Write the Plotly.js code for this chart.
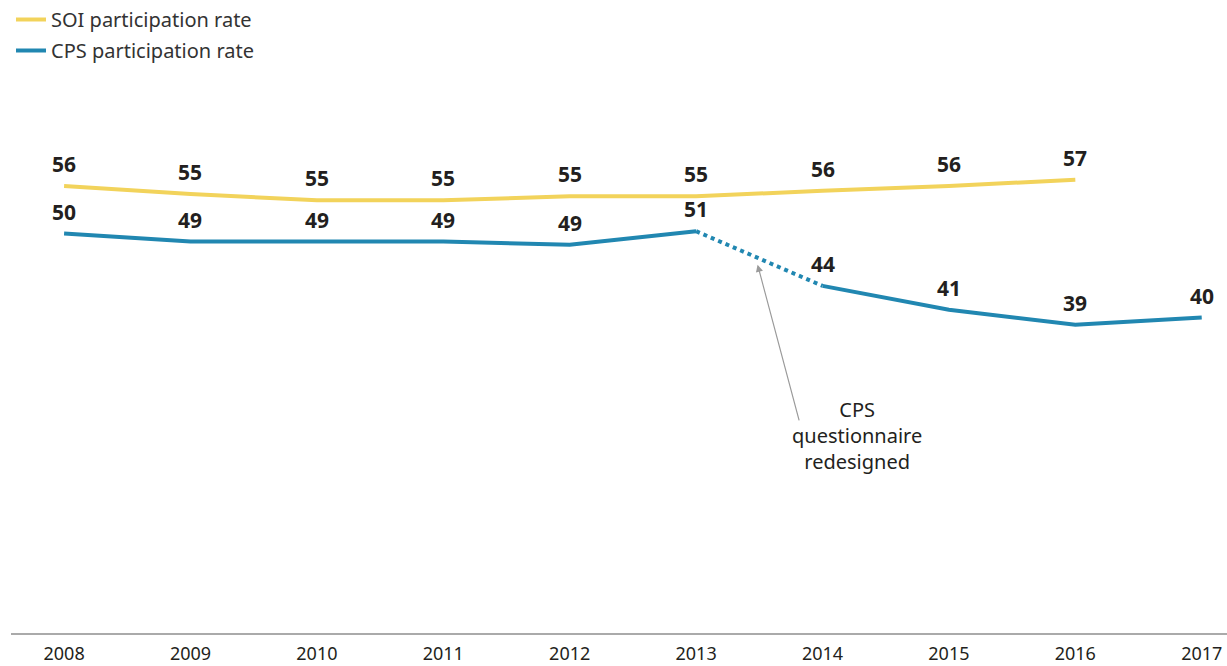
<!DOCTYPE html>
<html>
<head>
<meta charset="utf-8">
<script src="https://cdn.plot.ly/plotly-3.0.1.min.js"></script>
<style>html,body{margin:0;padding:0;background:#fff;}#chart{width:1227px;height:666px;}</style>
</head>
<body>
<div id="chart"></div>
<script>
// Data
const years = [2008, 2009, 2010, 2011, 2012, 2013, 2014, 2015, 2016, 2017];
const soiYears = [2008, 2009, 2010, 2011, 2012, 2013, 2014, 2015, 2016];
const soiRate = [56.4, 55.4, 54.6, 54.6, 55.1, 55.1, 55.8, 56.4, 57.2];
const cpsRate = [50.4, 49.4, 49.4, 49.4, 49.0, 50.7, 43.8, 40.8, 38.9, 39.8];
const redesignIndex = 5; // questionnaire redesigned between 2013 and 2014
const seriesNames = ["SOI participation rate", "CPS participation rate"];
const noteText = "CPS<br>questionnaire<br>redesigned";

const YELLOW = "#f2d35b";
const BLUE = "#2187b1";
const TXT = "#231f20";
const FONT = "Noto Sans, Open Sans, sans-serif";

const traces = [
  {x: soiYears, y: soiRate, mode: "lines", name: seriesNames[0], legendgroup: "soi",
   line: {color: YELLOW, width: 4}, hoverinfo: "skip"},
  {x: years.slice(0, redesignIndex + 1), y: cpsRate.slice(0, redesignIndex + 1), mode: "lines",
   name: seriesNames[1], legendgroup: "cps", line: {color: BLUE, width: 4}, hoverinfo: "skip"},
  {x: years.slice(redesignIndex, redesignIndex + 2), y: cpsRate.slice(redesignIndex, redesignIndex + 2),
   mode: "lines", showlegend: false, legendgroup: "cps", line: {color: BLUE, width: 4, dash: "dot"}, hoverinfo: "skip"},
  {x: years.slice(redesignIndex + 1), y: cpsRate.slice(redesignIndex + 1), mode: "lines",
   showlegend: false, legendgroup: "cps", line: {color: BLUE, width: 4}, hoverinfo: "skip"}
];

const annotations = [];
function addLabels(xs, ys) {
  xs.forEach((x, i) => {
    annotations.push({x: x, y: ys[i], xref: "x", yref: "y", text: String(Math.round(ys[i])),
      showarrow: false, yanchor: "bottom", xanchor: "center", yshift: 6,
      font: {family: FONT, size: 21, color: TXT, weight: "bold"}});
  });
}
addLabels(soiYears, soiRate);
addLabels(years, cpsRate);

// point on the dotted segment for the arrow head
const midX = years[redesignIndex] + 0.47;
const midY = cpsRate[redesignIndex] + (cpsRate[redesignIndex + 1] - cpsRate[redesignIndex]) * 0.47;
annotations.push({x: midX, y: midY, xref: "x", yref: "y", text: "", showarrow: true,
  ax: 44, ay: 165, arrowcolor: "#9a9a9a", arrowwidth: 1.2, arrowhead: 2, arrowsize: 1.2, standoff: 8});
annotations.push({x: 2014.27, y: 24.9, xref: "x", yref: "y", text: noteText, showarrow: false,
  xanchor: "center", yanchor: "middle", align: "center",
  font: {family: FONT, size: 20, color: TXT}});

const layout = {
  width: 1227, height: 666,
  margin: {l: 11, r: 0, t: 100, b: 33},
  paper_bgcolor: "#fff", plot_bgcolor: "#fff",
  font: {family: FONT, color: TXT},
  showlegend: true,
  legend: {x: 0, y: 1.189, xanchor: "left", yanchor: "top", traceorder: "grouped",
    tracegroupgap: 2, font: {family: FONT, size: 20, color: "#333"}, bgcolor: "rgba(0,0,0,0)"},
  xaxis: {range: [2007.58, 2017.2], tickvals: years, ticktext: years.map(String),
    showgrid: false, zeroline: false, showline: true, linecolor: "#aaaaaa", linewidth: 2,
    ticks: "", ticklabelstandoff: 3, tickfont: {family: FONT, size: 18, color: TXT}, fixedrange: true},
  yaxis: {range: [0, 67.13], visible: false, fixedrange: true},
  annotations: annotations
};

Plotly.newPlot("chart", traces, layout, {displayModeBar: false, staticPlot: true});
</script>
</body>
</html>
